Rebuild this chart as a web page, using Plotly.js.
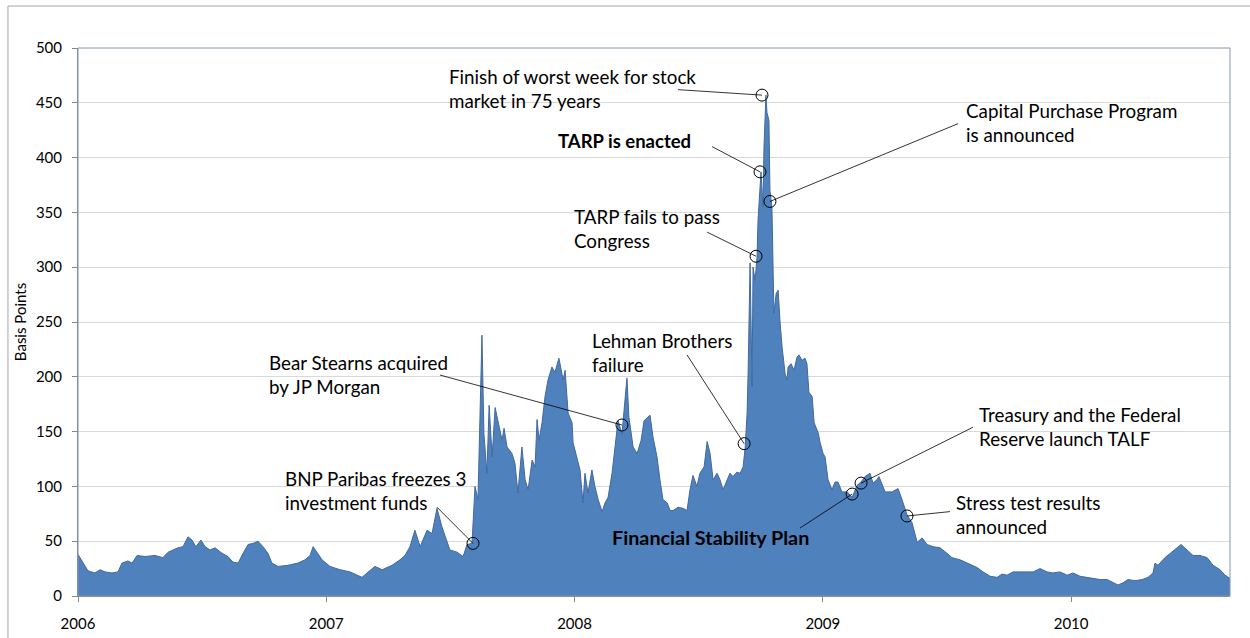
<!DOCTYPE html>
<html><head><meta charset="utf-8">
<script src="https://cdn.plot.ly/plotly-3.0.1.min.js"></script>
<style>html,body{margin:0;padding:0;background:#fff;} #chart{width:1250px;height:638px;}</style>
</head><body><div id="chart"></div>
<script>
// Spread in basis points (decimal year, value)
var t2006 = [2006.000,2006.008,2006.028,2006.040,2006.068,2006.089,2006.109,2006.137,2006.161,2006.177,2006.201,2006.218,2006.238,2006.270,2006.310,2006.342,2006.363,2006.403,2006.423,2006.443,2006.459,2006.475,2006.495,2006.512,2006.532,2006.552,2006.580,2006.604,2006.624,2006.645,2006.665,2006.685,2006.705,2006.725,2006.745,2006.765,2006.781,2006.806,2006.846,2006.886,2006.914,2006.935,2006.947,2006.963,2006.983];
var v2006 = [38,35,27,23,21,24,22,21,22,30,32,30,37,36,37,35,40,44,45,54,51,45,51,45,42,44,39,36,31,30,39,47,48,50,45,39,30,27,28,30,33,37,45,40,33];

var t2007 = [2007.015,2007.055,2007.096,2007.124,2007.144,2007.164,2007.196,2007.225,2007.265,2007.297,2007.317,2007.337,2007.357,2007.378,2007.406,2007.426,2007.446,2007.466,2007.486,2007.498,2007.527,2007.551,2007.567,2007.587,2007.599,2007.611,2007.619,2007.627,2007.635,2007.647,2007.656,2007.668,2007.680,2007.692,2007.708,2007.716,2007.728,2007.748,2007.760,2007.772,2007.788,2007.801,2007.813,2007.829,2007.841,2007.849,2007.857,2007.869,2007.881,2007.893,2007.909,2007.921,2007.937,2007.954,2007.962,2007.974,2007.990,2007.994];
var v2007 = [27,24,22,19,17,21,27,24,28,33,37,45,60,45,60,57,80,63,51,42,40,36,47,48,100,88,163,238,148,112,174,127,172,160,142,153,136,130,121,94,136,106,97,124,118,161,142,158,182,197,209,204,217,197,206,167,158,140];

var t2008 = [2008.010,2008.022,2008.034,2008.042,2008.054,2008.070,2008.082,2008.095,2008.111,2008.123,2008.135,2008.151,2008.163,2008.175,2008.191,2008.199,2008.211,2008.219,2008.236,2008.252,2008.268,2008.280,2008.292,2008.304,2008.316,2008.332,2008.344,2008.356,2008.373,2008.385,2008.397,2008.417,2008.437,2008.453,2008.465,2008.477,2008.493,2008.505,2008.522,2008.534,2008.546,2008.558,2008.574,2008.586,2008.598,2008.614,2008.626,2008.638,2008.654,2008.667,2008.679,2008.687,2008.695,2008.699,2008.707,2008.715,2008.719,2008.727,2008.735,2008.739,2008.747,2008.751,2008.759,2008.763,2008.771,2008.775,2008.783,2008.787,2008.795,2008.799,2008.803,2008.812,2008.820,2008.828,2008.836,2008.848,2008.856,2008.860,2008.872,2008.884,2008.896,2008.904,2008.916,2008.928,2008.936,2008.944,2008.957,2008.965,2008.981,2008.989];
var v2008 = [127,115,85,112,94,115,100,88,77,85,90,112,136,160,148,170,199,163,136,130,142,160,163,165,145,127,106,88,85,78,78,81,80,78,97,110,100,112,118,141,130,106,112,106,97,106,112,109,113,112,118,135,167,203,304,191,300,288,309,343,380,387,355,410,457,441,434,370,355,288,258,276,279,249,227,203,197,209,212,206,218,220,215,217,212,186,182,158,149,140];

var t2009 = [2009.001,2009.009,2009.021,2009.037,2009.049,2009.061,2009.077,2009.098,2009.118,2009.138,2009.154,2009.170,2009.190,2009.202,2009.218,2009.226,2009.239,2009.251,2009.279,2009.303,2009.319,2009.339,2009.359,2009.380,2009.400,2009.420,2009.444,2009.472,2009.500,2009.520,2009.553,2009.585,2009.621,2009.645,2009.674,2009.702,2009.722,2009.742,2009.766,2009.794,2009.823,2009.847,2009.875,2009.903,2009.927,2009.955,2009.984];
var v2009 = [130,127,106,97,104,104,95,95,90,101,104,109,112,103,106,109,101,95,95,98,88,74,67,49,53,47,45,44,39,35,33,30,26,22,18,17,20,19,22,22,22,22,25,22,21,22,19];

var t2010 = [2010.008,2010.036,2010.064,2010.088,2010.117,2010.145,2010.169,2010.189,2010.209,2010.229,2010.258,2010.286,2010.310,2010.330,2010.338,2010.350,2010.378,2010.407,2010.427,2010.443,2010.467,2010.491,2010.519,2010.548,2010.572,2010.600,2010.620,2010.640];
var v2010 = [21,18,17,16,15,15,12,10,12,15,14,15,17,21,30,28,35,40,44,47,42,37,37,35,28,24,19,16];

var yearTicks = [2006, 2007, 2008, 2009, 2010];
var yearLabels = ['2006', '2007', '2008', '2009', '2010'];

// Events (callouts)
var eventText = ['BNP Paribas freezes 3<br>investment funds', 'Bear Stearns acquired<br>by JP Morgan', 'Lehman Brothers<br>failure', 'TARP fails to pass<br>Congress', '<b>TARP is enacted</b>', 'Finish of worst week for stock<br>market in 75 years', 'Capital Purchase Program<br>is announced', '<b>Financial Stability Plan</b>', 'Treasury and the Federal<br>Reserve launch TALF', 'Stress test results<br>announced'];
var eventT = [2007.591, 2008.191, 2008.683, 2008.731, 2008.747, 2008.755, 2008.787, 2009.118, 2009.154, 2009.339];
var eventV = [48, 156, 139, 310, 387, 457, 360, 93, 103, 73];
var labelT = [2006.826, 2006.761, 2008.062, 2007.990, 2007.925, 2007.486, 2009.569, 2008.143, 2009.621, 2009.529];
var labelV = [96.7, 202.5, 222.6, 334.9, 415.1, 462.6, 431.6, 53.8, 155.1, 74.8];
var leaderT = [2007.446, 2007.458, 2008.453, 2008.534, 2008.554, 2008.417, 2009.545, 2008.908, 2009.605, 2009.512];
var leaderV = [81, 201.6, 220, 332, 410, 462, 431, 62, 154, 77];
var labelSize = [18.8, 18.8, 18.8, 18.8, 18.5, 18.8, 18.8, 19.8, 18.8, 18.8];

var xs = t2006.concat(t2007, t2008, t2009, t2010);
var ys = v2006.concat(v2007, v2008, v2009, v2010);

var lx = [], ly = [];
for (var i = 0; i < eventT.length; i++) {
  lx.push(leaderT[i], eventT[i], null);
  ly.push(leaderV[i], eventV[i], null);
}

var FONT = 'Lato, "Open Sans", sans-serif';

var traces = [
  {x: xs, y: ys, type: 'scatter', mode: 'lines', fill: 'tozeroy',
   fillcolor: '#4F81BD', line: {color: '#40699F', width: 1}, hoverinfo: 'skip'},
  {x: lx, y: ly, type: 'scatter', mode: 'lines', line: {color: '#000', width: 0.8}, hoverinfo: 'skip'},
  {x: eventT, y: eventV, type: 'scatter', mode: 'markers',
   marker: {symbol: 'circle-open', size: 12, color: '#000', line: {width: 1, color: '#000'}}, hoverinfo: 'skip', cliponaxis: false}
];

var annotations = eventText.map(function (txt, i) {
  return {x: labelT[i], y: labelV[i], xref: 'x', yref: 'y', text: txt, showarrow: false,
    xanchor: 'left', yanchor: 'middle', align: 'left',
    font: {family: FONT, size: labelSize[i], color: '#000'}};
});

var layout = {
  width: 1250, height: 638,
  margin: {l: 78, r: 20, t: 48, b: 42},
  paper_bgcolor: '#fff', plot_bgcolor: '#fff',
  showlegend: false,
  font: {family: FONT, color: '#000'},
  xaxis: {range: [2006, 2010.64], tickvals: yearTicks, ticktext: yearLabels,
    ticks: 'outside', ticklen: 5, tickcolor: '#868686', showline: true, linecolor: '#868686',
    showgrid: false, zeroline: false, tickfont: {size: 15, color: '#000'}, ticklabelstandoff: 9},
  yaxis: {range: [0, 500], tick0: 0, dtick: 50, ticks: 'outside', ticklen: 5, tickcolor: '#868686',
    showline: true, linecolor: '#868686', gridcolor: '#d9d9d9', gridwidth: 1, zeroline: false,
    tickfont: {size: 15, color: '#000'}, ticklabelstandoff: 7,
    title: {text: 'Basis Points', font: {size: 15, color: '#000'}, standoff: 5}},
  annotations: annotations,
  shapes: [
    {type: 'rect', xref: 'paper', yref: 'paper', x0: 0, x1: 1, y0: 0, y1: 1,
     line: {color: '#8497B0', width: 1}, layer: 'above'},
    {type: 'rect', xref: 'paper', yref: 'paper', x0: -0.0608, x1: 1.2, y0: -0.3, y1: 1.0766,
     line: {color: '#A6A6A6', width: 1}, layer: 'below'}
  ]
};

Plotly.newPlot('chart', traces, layout, {displayModeBar: false, staticPlot: true});
</script></body></html>
